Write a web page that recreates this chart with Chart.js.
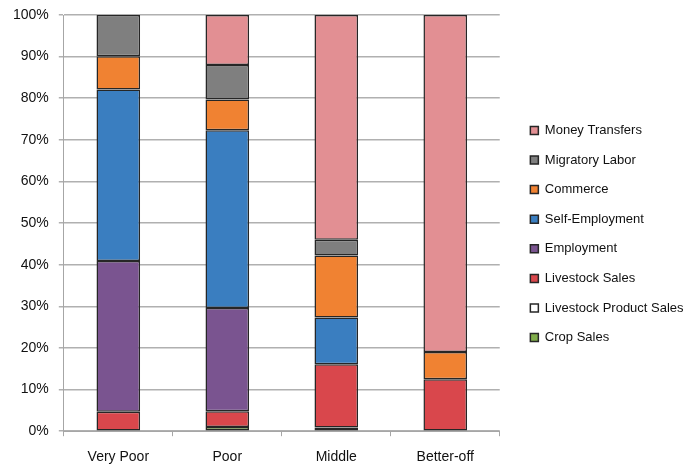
<!DOCTYPE html>
<html>
<head>
<meta charset="utf-8">
<script src="https://cdn.jsdelivr.net/npm/chart.js@4/dist/chart.umd.min.js"></script>
<style>
	html, body { margin: 0; padding: 0; background: #fff; }
	.chart-container { width: 696px; height: 466px; position: relative; }
</style>
</head>
<body>
<div class="chart-container"><canvas id="chart"></canvas></div>
<script>
// groups along the x axis
var groups = ['Very Poor', 'Poor', 'Middle', 'Better-off'];

// share of income by source, percent
var cropSales = [0, 1, 0, 0];
var livestockProductSales = [0, 0, 0.9, 0];
var livestockSales = [4.7, 3.8, 15.2, 12.5];
var employment = [36.2, 24.8, 0, 0];
var selfEmployment = [41.2, 42.7, 11.2, 0];
var commerce = [8, 7.4, 14.9, 6.5];
var migratoryLabor = [9.9, 8.3, 3.8, 0];
var moneyTransfers = [0, 12, 54, 81];

var yTicks = [0, 10, 20, 30, 40, 50, 60, 70, 80, 90, 100];

function makeSet(label, data, color) {
	return {
		label: label,
		// empty segments are left out so they draw no outline
		data: data.map(function (v) { return v > 0 ? v : null; }),
		backgroundColor: color,
		borderColor: '#262626',
		borderWidth: 1.5,
		borderSkipped: false,
		inflateAmount: 0,
		categoryPercentage: 1,
		barPercentage: 0.4
	};
}

// push the legend a bit further away from the plot, and up
var legendGap = {
	id: 'legendGap',
	beforeInit: function (chart) {
		var fit = chart.legend.fit;
		chart.legend.fit = function () {
			fit.call(this);
			this.width += 14;
		};
	},
	afterLayout: function (chart) {
		chart.legend.left += 14;
		chart.legend.right += 14;
		chart.legend.top -= 7;
		chart.legend.bottom -= 7;
	}
};

var ctx = document.getElementById('chart').getContext('2d');
var myChart = new Chart(ctx, {
	type: 'bar',
	data: {
		labels: groups,
		datasets: [
			makeSet('Crop Sales', cropSales, '#80ad4b'),
			makeSet('Livestock Product Sales', livestockProductSales, '#ffffff'),
			makeSet('Livestock Sales', livestockSales, '#d9474c'),
			makeSet('Employment', employment, '#7a5490'),
			makeSet('Self-Employment', selfEmployment, '#3a7ec0'),
			makeSet('Commerce', commerce, '#f08232'),
			makeSet('Migratory Labor', migratoryLabor, '#7f7f7f'),
			makeSet('Money Transfers', moneyTransfers, '#e28f93')
		]
	},
	plugins: [legendGap],
	options: {
		responsive: true,
		maintainAspectRatio: false,
		animation: false,
		layout: { padding: { top: 3, right: 12, left: 3, bottom: -13 } },
		plugins: {
			tooltip: { enabled: false },
			legend: {
				position: 'right',
				reverse: true,
				labels: {
					boxWidth: 8,
					boxHeight: 8,
					padding: 16.6,
					color: '#111',
					font: { family: 'Liberation Sans', size: 13 }
				}
			}
		},
		scales: {
			x: {
				stacked: true,
				grid: {
					offset: true,
					drawOnChartArea: false,
					color: '#a6a6a6',
					tickLength: 5
				},
				border: { color: '#a6a6a6', width: 1 },
				ticks: {
					padding: 13,
					color: '#111',
					font: { family: 'Liberation Sans', size: 14 }
				}
			},
			y: {
				stacked: true,
				min: 0,
				max: 100,
				afterBuildTicks: function (axis) {
					axis.ticks = yTicks.map(function (v) { return { value: v }; });
				},
				afterFit: function (axis) {
					axis.paddingTop = 15;
				},
				grid: { color: '#b0b0b0', lineWidth: 1.5, tickLength: 5 },
				border: { color: '#a6a6a6', width: 1 },
				ticks: {
					padding: 10,
					color: '#111',
					font: { family: 'Liberation Sans', size: 14 },
					callback: function (v) { return v + '%'; }
				}
			}
		}
	}
});
</script>
</body>
</html>
